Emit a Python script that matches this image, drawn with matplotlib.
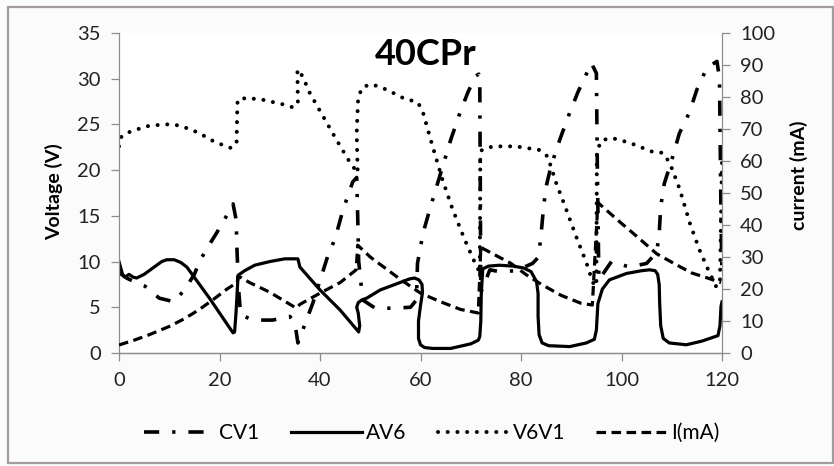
import matplotlib
matplotlib.use("Agg")
import matplotlib.pyplot as plt
from matplotlib.lines import Line2D
from matplotlib.patches import Rectangle

plt.rcParams["font.family"] = ["Lato", "DejaVu Sans"]

# time axis (s) and voltages (V) for each series, read point by point
cv1_t = [0, 1.5, 3, 5.2, 8, 11, 13, 15, 16, 17.7, 19.5, 21, 22.7, 23.3, 23.5, 23.8, 24.2,
         26.6, 30.6, 34, 35, 35.6, 38.6, 41.6, 43, 44.6, 46.5, 47.3, 47.5, 47.7, 48.5,
         51, 54.5, 58, 59.2, 59.4, 60.5, 62, 66, 68, 69.5, 71, 71.6, 71.8, 72.0, 73.8,
         75.7, 79, 82.3, 83.5, 84, 84.5, 85, 86, 87.7, 89.5, 91.3, 93, 94, 95, 95.2,
         95.5, 98, 101.6, 105, 107, 107.5, 107.8, 108.5, 110, 111.5, 113.5, 115, 117,
         119, 119.5, 119.8, 120]
cv1_v = [8.8, 8.2, 7.8, 7.3, 6.0, 5.6, 6.9, 8.6, 10, 11.6, 13.2, 14.6, 16.3, 14.6, 11, 7, 4.2,
         3.6, 3.6, 4.0, 3.3, 1.1, 5.5, 10.7, 12.5, 15.7, 18.7, 19.2, 15, 10, 5.8,
         4.9, 4.9, 5.0, 5.8, 9.8, 13.1, 16, 23.3, 26.5, 28.6, 30.3, 30.5, 29.5, 6.6, 9.1,
         8.9, 9.0, 9.8, 10.5, 13, 16, 18.2, 20.5, 23.3, 26, 28.5, 30.5, 31.7, 30.6, 20,
         8.0, 10, 9.4, 9.8, 11, 13, 16, 18.5, 21.1, 24, 26.3, 28.8, 31.2,
         31.9, 30.0, 15, 8.3]

av6_t = [0, 0.7, 1.2, 2, 2.8, 3.5, 5, 7, 8.5, 9.5, 11, 12.3, 13.5, 18, 22.2, 22.7, 23.0,
         23.3, 23.7, 25, 27, 30, 33, 35.6, 36, 40, 44, 47.7, 47.9, 47.6, 47.3, 47.6, 48.3,
         49.3, 52, 55.9, 57.8, 58.8, 59.7, 60.3, 60.4, 60.0, 59.6, 59.6, 60.0, 60.8,
         62.4, 66, 70, 71.5, 71.8, 72.0, 72.1, 72.4, 73.5, 75.7, 78.5, 80.5, 82, 83.1,
         83.4, 83.4, 83.6, 84.2, 85.5, 89.7, 93, 94.6, 95.0, 95.3, 96.2, 97.6, 101,
         104, 105.6, 106.7, 107.2, 107.5, 107.6, 107.8, 108.3, 109.5, 112.9, 116, 119.2,
         119.6, 119.8, 120]
av6_v = [10, 8.6, 8.3, 8.6, 8.3, 8.2, 8.6, 9.4, 10.0, 10.2, 10.2, 9.9, 9.4, 6.0, 2.6, 2.2, 2.3,
         4.5, 8.5, 9.0, 9.6, 10.0, 10.3, 10.3, 9.4, 6.9, 4.7, 2.3, 3.0, 4.4, 5.0, 5.5, 5.8,
         6.0, 6.9, 7.7, 8.1, 8.2, 8.0, 7.5, 6.6, 5.2, 3.5, 1.6, 0.9, 0.6,
         0.5, 0.5, 1.0, 1.4, 1.8, 3.5, 6.6, 9.2, 9.5, 9.6, 9.5, 9.3, 8.9, 7.8,
         6.5, 4.0, 2.0, 1.1, 0.8, 0.7, 1.1, 1.5, 2.5, 5.4, 7.0, 8.0, 8.7,
         9.0, 9.1, 9.0, 8.6, 7.5, 5.4, 3.0, 1.6, 1.1, 0.9, 1.3, 1.9,
         3.0, 5.1, 5.6]

v6v1_t = [0, 0.5, 2.2, 5.5, 8.8, 10.8, 12.5, 15.8, 19, 22.4, 23.4, 23.5, 23.6, 25.4, 28.6,
          32.6, 34.4, 35.6, 35.5, 36.5, 38, 40.6, 43.3, 46, 47.5, 47.3, 47.6, 48.5,
          50.3, 53.3, 56.5, 59.5, 60.5, 62.2, 64.4, 66.4, 68.8, 70.8, 71.8, 71.9, 72.2,
          74.4, 79, 83.7, 85.3, 87, 89, 91, 93, 94.3, 95, 95.1, 96.2, 98.2, 101.6,
          106.2, 108.2, 109.6, 111.6, 113.6, 115.5, 117.5, 118.9, 119.6, 120]
v6v1_v = [22.6, 23.7, 24.2, 24.8, 25.0, 25.0, 24.8, 24.1, 23.1, 22.4, 23.1, 25.9, 27.7, 27.9,
          27.7, 27.2, 26.9, 27.2, 31.0, 30.3, 28.4, 25.9, 23.3, 20.8, 19.7, 24, 28.0,
          29.1, 29.4, 28.8, 27.9, 27.4, 26.3, 23.0, 18.9, 15.7, 12.4, 9.9, 8.8, 21.5,
          22.2, 22.6, 22.6, 22.2, 21.5, 18.6, 15.7, 12.7, 9.9, 7.7, 7.3, 22.2, 23.3,
          23.5, 23.0, 22.0, 21.9, 20.8, 17.9, 14.2, 11.3, 8.8, 7.2, 8.0, 21]

# current (mA), plotted against the right-hand axis
i_t = [0, 3, 6, 10, 13, 16, 19, 21.5, 23.5, 23.8, 26, 30, 35.3, 36, 40, 44, 47.2, 47.5,
       50, 53, 56, 60, 64, 68, 71.5, 72, 75, 78, 81, 84, 88, 92, 94.2, 95.3, 100, 103,
       107, 111, 114, 117, 119.8]
i_ma = [2.5, 4, 5.7, 8.3, 10.7, 13.6, 17, 20, 22, 24, 22, 19, 14.0, 15.2, 18.7, 22, 26, 33.7,
        30, 26.5, 23, 18.7, 16, 13.6, 12.5, 33, 30.5, 28, 24.5, 21.5, 18, 15.5, 15, 47,
        40.5, 36.5, 31, 27.5, 25, 23.5, 22]

LINE_W = 2.3
STYLES = {
  "CV1": dict(dashes=(4.2, 3.6, 0.9, 3.6)),
  "AV6": dict(linestyle="-"),
  "V6V1": dict(dashes=(0.01, 2.4), dash_capstyle="round"),
  "I(mA)": dict(dashes=(3.0, 1.7)),
}

fig = plt.figure(figsize=(8.34, 4.66), dpi=100, facecolor="#fbfbfb")
fig.patches.append(Rectangle((8 / 834, 3 / 466), 825 / 834, 456 / 466, transform=fig.transFigure,
                             fill=False, edgecolor="#a29c9a", linewidth=1.6))

ax = fig.add_axes([119 / 834, 1 - 353 / 466, 603 / 834, 320 / 466])
ax.set_facecolor("white")
ax2 = ax.twinx()

ax.plot(cv1_t, cv1_v, color="black", lw=LINE_W + 0.3, **STYLES["CV1"])
ax.plot(av6_t, av6_v, color="black", lw=LINE_W, **STYLES["AV6"])
ax.plot(v6v1_t, v6v1_v, color="black", lw=LINE_W + 0.6, **STYLES["V6V1"])
ax2.plot(i_t, i_ma, color="black", lw=LINE_W, **STYLES["I(mA)"])

ax.set_xlim(0, 120)
ax.set_ylim(0, 35)
ax2.set_ylim(0, 100)
ax.set_xticks(range(0, 121, 20))
ax.set_yticks(range(0, 36, 5))
ax2.set_yticks(range(0, 101, 10))

spine_col = "#8c8c8c"
for a in (ax, ax2):
  a.spines["top"].set_visible(False)
  for s in ("left", "right", "bottom"):
    a.spines[s].set_color(spine_col)
    a.spines[s].set_linewidth(0.9)
  a.tick_params(colors=spine_col, labelcolor="#222222", labelsize=14.5, length=6, width=0.9, pad=7)
ax.spines["right"].set_visible(False)
ax2.spines["left"].set_visible(False)
ax.tick_params(axis="x", pad=8)

ax.set_ylabel("Voltage (V)", fontsize=14, fontweight="bold")
ax2.set_ylabel("current (mA)", fontsize=14, fontweight="bold")
ax.yaxis.set_label_coords(-0.093, 0.505)
ax2.yaxis.set_label_coords(1.113, 0.555)

ax.text(0.508, 0.985, "40CPr", transform=ax.transAxes, ha="center", va="top",
        fontsize=26, fontweight="bold")

handles = [Line2D([], [], color="black", lw=LINE_W + 0.3, **STYLES["CV1"]),
           Line2D([], [], color="black", lw=LINE_W, **STYLES["AV6"]),
           Line2D([], [], color="black", lw=LINE_W + 0.6, **STYLES["V6V1"]),
           Line2D([], [], color="black", lw=LINE_W, **STYLES["I(mA)"])]
fig.legend(handles, ["CV1", "AV6", "V6V1", "I(mA)"], loc="center", bbox_to_anchor=(432 / 834, 1 - 433 / 466),
           ncol=4, frameon=False, fontsize=15, handlelength=3.4, handletextpad=0.2, columnspacing=1.5)

fig.savefig("out.png", dpi=100, facecolor=fig.get_facecolor())
